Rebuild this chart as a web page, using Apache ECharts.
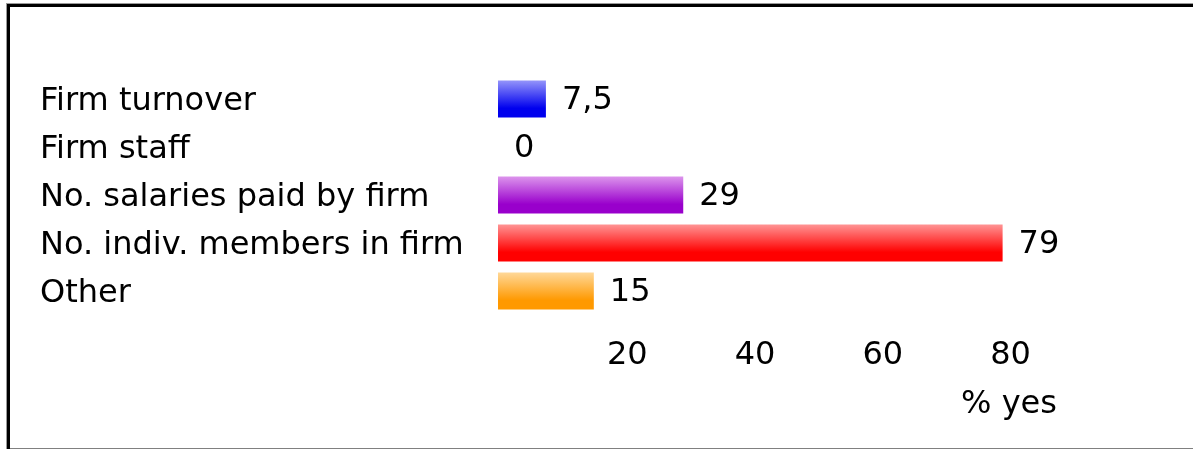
<!DOCTYPE html>
<html>
<head>
<meta charset="utf-8">
<script src="https://cdn.jsdelivr.net/npm/echarts@6/dist/echarts.min.js"></script>
<style>
  html, body { margin: 0; padding: 0; background: #fff; }
  #chart { width: 1193px; height: 450px; }
</style>
</head>
<body>
<div id="chart"></div>
<script>
// Survey answers: share of "yes" responses per criterion
const categories = [
  'Firm turnover',
  'Firm staff',
  'No. salaries paid by firm',
  'No. indiv. members in firm',
  'Other'
];
const values = [7.5, 0, 29, 79, 15];
const barTop = ['#9494fa', '#c0c0c0', '#dc94ec', '#ff9494', '#ffd898'];
const barBottom = ['#0000ee', '#808080', '#9900cc', '#ff0000', '#ff9900'];
const axisTicks = [0, 20, 40, 60, 80];
const axisTitle = '% yes';

const FONT = '"DejaVu Sans", Verdana, sans-serif';
const FS = 32;

function gradient(i) {
  return {
    type: 'linear', x: 0, y: 0, x2: 0, y2: 1,
    colorStops: [
      { offset: 0, color: barTop[i] },
      { offset: 0.75, color: barBottom[i] },
      { offset: 1, color: barBottom[i] }
    ]
  };
}

const chart = echarts.init(document.getElementById('chart'), null, { renderer: 'canvas' });

chart.setOption({
  animation: false,
  backgroundColor: '#ffffff',
  grid: { left: 498, right: 1193 - 1009, top: 75, height: 240, containLabel: false },
  xAxis: {
    type: 'value',
    min: axisTicks[0],
    max: axisTicks[axisTicks.length - 1],
    interval: axisTicks[1] - axisTicks[0],
    axisLine: { show: false },
    axisTick: { show: false },
    splitLine: { show: false },
    axisLabel: {
      showMinLabel: false,
      margin: 25,
      color: '#000',
      fontFamily: FONT,
      fontSize: FS,
      padding: [0, 0, 0, 3]
    },
    name: axisTitle,
    nameLocation: 'end',
    nameGap: 0,
    nameTextStyle: {
      color: '#000',
      fontFamily: FONT,
      fontSize: FS,
      align: 'center',
      verticalAlign: 'top',
      padding: [74, 0, 0, 0]
    }
  },
  yAxis: {
    type: 'category',
    inverse: true,
    data: categories,
    axisLine: { show: false },
    axisTick: { show: false },
    splitLine: { show: false },
    axisLabel: {
      align: 'left',
      verticalAlign: 'top',
      lineHeight: 6,
      margin: 498 - 40,
      color: '#000',
      fontFamily: FONT,
      fontSize: FS
    }
  },
  series: [{
    type: 'bar',
    barWidth: 37,
    data: values.map((v, i) => ({ value: v, itemStyle: { color: gradient(i) } })),
    label: {
      show: true,
      position: 'right',
      distance: 16,
      offset: [0, 2],
      color: '#000',
      fontFamily: FONT,
      fontSize: FS,
      formatter: p => String(p.value).replace('.', ',')
    }
  }],
  graphic: [
    // frame: heavy top and left edges, thin grey bottom edge
    { type: 'rect', shape: { x: 6, y: 3, width: 1187, height: 1 }, style: { fill: '#9a9a9a' }, silent: true },
    { type: 'rect', shape: { x: 7, y: 4, width: 1186, height: 3 }, style: { fill: '#000' }, silent: true },
    { type: 'rect', shape: { x: 6, y: 3, width: 1, height: 446 }, style: { fill: '#9a9a9a' }, silent: true },
    { type: 'rect', shape: { x: 7, y: 4, width: 3, height: 445 }, style: { fill: '#000' }, silent: true },
    { type: 'rect', shape: { x: 10, y: 448, width: 1183, height: 1 }, style: { fill: '#808080' }, silent: true }
  ]
});
</script>
</body>
</html>
